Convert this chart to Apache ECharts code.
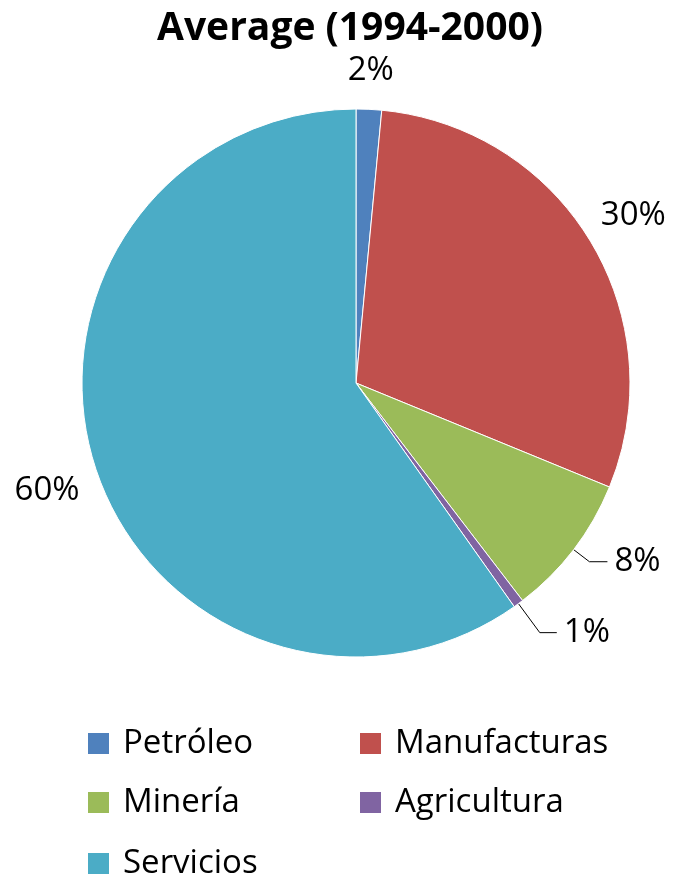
<!DOCTYPE html>
<html>
<head>
<meta charset="utf-8">
<script src="https://cdn.jsdelivr.net/npm/echarts@6/dist/echarts.min.js"></script>
<style>
html, body { margin: 0; padding: 0; background: #fff; }
#main { width: 673px; height: 875px; }
</style>
</head>
<body>
<div id="main"></div>
<script>
const categories = ['Petróleo', 'Manufacturas', 'Minería', 'Agricultura', 'Servicios'];
const shares = [1.5, 29.7, 8.4, 0.6, 59.8];
const colors = ['#4F81BD', '#C0504D', '#9BBB59', '#8064A2', '#4BACC6'];
const FONT = '"Open Sans", sans-serif';

const CX = 356, CY = 383, R = 274;
// how far from the centre each free-standing label sits (Excel style, centred on the radius)
const labelDist = { 0: 313, 1: 324, 4: 327 };
// small angle nudge (degrees) for the big label, Excel puts it a bit lower
const labelTurn = { 4: -1.5 };

const total = shares.reduce((a, b) => a + b, 0);
function midAngle(i) {
  let before = 0;
  for (let k = 0; k < i; k++) before += shares[k];
  return (before + shares[i] / 2) / total * Math.PI * 2;
}

const chart = echarts.init(document.getElementById('main'));

// one legend per item so the two columns line up like in Excel
const legendSpots = [[86, 727], [358, 727], [86, 786], [358, 786], [86, 847]];
const legends = categories.map((name, i) => ({
  data: [name],
  left: legendSpots[i][0],
  top: legendSpots[i][1],
  padding: 0,
  itemWidth: 23,
  itemHeight: 23,
  icon: 'rect',
  textStyle: { fontFamily: FONT, fontSize: 33, lineHeight: 23, color: '#000', padding: [0, 0, 0, 8] },
}));

chart.setOption({
  color: colors,
  title: {
    text: 'Average (1994-2000)',
    left: 157,
    top: 9,
    padding: 0,
    textStyle: { fontFamily: FONT, fontSize: 39, fontWeight: 'bold', color: '#000' },
  },
  legend: legends,
  series: [{
    type: 'pie',
    center: [CX, CY],
    radius: R,
    startAngle: 90,
    clockwise: true,
    avoidLabelOverlap: false,
    itemStyle: { borderColor: '#fff', borderWidth: 1 },
    label: {
      position: 'outside',
      fontFamily: FONT,
      fontSize: 33,
      color: '#000',
      distanceToLabelLine: 7,
      formatter: p => Math.round(p.value) + '%',
    },
    labelLine: { show: false },
    labelLayout: p => {
      if (labelDist[p.dataIndex] === undefined) return {};
      const a = midAngle(p.dataIndex) + (labelTurn[p.dataIndex] || 0) * Math.PI / 180;
      const d = labelDist[p.dataIndex];
      return {
        x: CX + d * Math.sin(a),
        y: CY - d * Math.cos(a),
        align: 'center',
        verticalAlign: 'middle',
      };
    },
    emphasis: { disabled: true },
    data: categories.map((name, i) => {
      const d = { name, value: shares[i] };
      if (name === 'Minería') {
        d.labelLine = { show: true, length: 20, length2: 18, lineStyle: { color: '#000', width: 1 } };
      } else if (name === 'Agricultura') {
        d.labelLine = { show: true, length: 36, length2: 17, lineStyle: { color: '#000', width: 1 } };
      }
      return d;
    }),
  }],
});
</script>
</body>
</html>
